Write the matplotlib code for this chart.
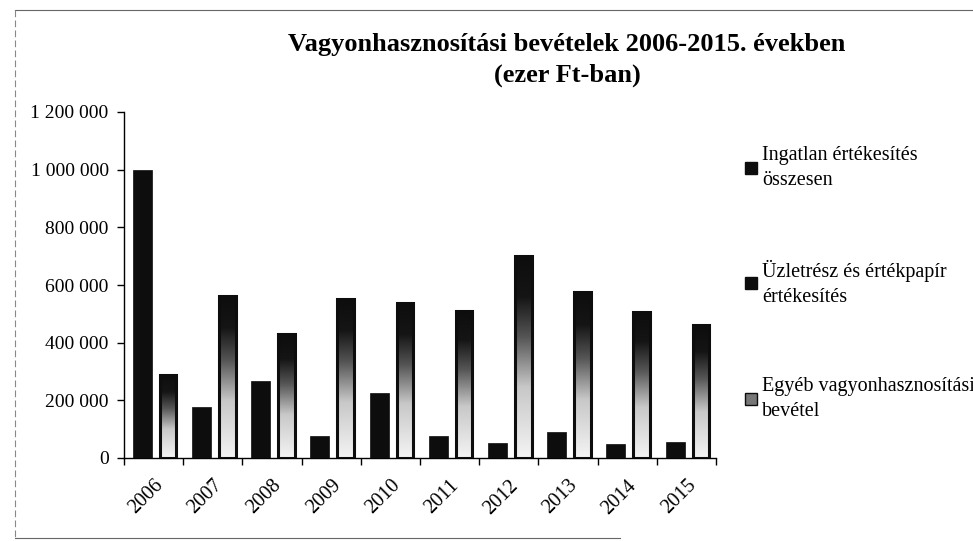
import numpy as np
import matplotlib
matplotlib.use("Agg")
import matplotlib.pyplot as plt
from matplotlib.lines import Line2D
from matplotlib.ticker import FuncFormatter, MultipleLocator

years = ["2006", "2007", "2008", "2009", "2010", "2011", "2012", "2013", "2014", "2015"]
ingatlan = [1000000, 178000, 268000, 76000, 226000, 76000, 52000, 90000, 48000, 57000]
uzletresz = [0, 0, 0, 0, 0, 0, 0, 0, 0, 0]
egyeb = [287000, 563000, 430000, 552000, 537000, 510000, 700000, 577000, 505000, 460000]
series_names = ["Ingatlan értékesítés\nösszesen",
                "Üzletrész és értékpapír\nértékesítés",
                "Egyéb vagyonhasznosítási\nbevétel"]
title = "Vagyonhasznosítási bevételek 2006-2015. években\n(ezer Ft-ban)"

plt.rcParams['font.family'] = ['Liberation Serif', 'DejaVu Serif']

fig = plt.figure(figsize=(9.73, 5.41), dpi=100)
ax = fig.add_axes([124/973, 1-458/541, (716-124)/973, (458-112)/541])

x = np.arange(len(years))
ax.bar(x - 0.19, ingatlan, width=0.32, color='#0d0d0d', edgecolor='#0d0d0d', linewidth=0.5, zorder=3)
ax.bar(x + 0.03, uzletresz, width=0.1, color='#0d0d0d', zorder=3)
bars_e = ax.bar(x + 0.245, egyeb, width=0.28, facecolor='none', edgecolor='#0d0d0d', linewidth=2.2, zorder=4)

# gradient fill: dark at top, light at bottom
grad = np.linspace(0, 1, 256).reshape(-1, 1)
cmap = matplotlib.colors.LinearSegmentedColormap.from_list(
    'g', [(0, '#f4f4f4'), (0.35, '#c8c8c8'), (0.6, '#555555'), (0.8, '#151515'), (1, '#0d0d0d')])
for b in bars_e:
    x0, y0 = b.get_x(), b.get_y()
    w, h = b.get_width(), b.get_height()
    im = ax.imshow(grad, extent=[x0, x0 + w, y0, y0 + h], origin='lower',
                   aspect='auto', cmap=cmap, zorder=3)
    im.set_clip_path(b)

ax.set_xlim(-0.5, len(years) - 0.5)
ax.set_ylim(0, 1200000)
ax.yaxis.set_major_locator(MultipleLocator(200000))
ax.yaxis.set_major_formatter(FuncFormatter(lambda v, p: f"{int(v):,}".replace(",", " ")))

ax.set_xticks(x)
ax.set_xticklabels(years, rotation=45, ha='right', rotation_mode='anchor', fontsize=14.5)
ax.set_xticks(np.arange(len(years) + 1) - 0.5, minor=True)
ax.tick_params(axis='x', which='major', length=0, pad=13)
ax.tick_params(axis='x', which='minor', length=5, direction='out', width=1)
ax.tick_params(axis='y', labelsize=14, length=5, direction='out', width=1, pad=6)

for s in ['top', 'right']:
    ax.spines[s].set_visible(False)
ax.spines['left'].set_linewidth(1)
ax.spines['bottom'].set_linewidth(1)
ax.set_facecolor('none')

fig.text(567/973, 1 - 60/541, title, ha='center', va='center', fontsize=19,
         fontweight='bold', linespacing=1.4)

# legend
handles = [Line2D([], [], marker='s', linestyle='none', markersize=9, color='#0d0d0d'),
           Line2D([], [], marker='s', linestyle='none', markersize=9, color='#0d0d0d'),
           Line2D([], [], marker='s', linestyle='none', markersize=9, markerfacecolor='#777777',
                  markeredgecolor='#0d0d0d')]
leg = fig.legend(handles, series_names, loc='upper left', bbox_to_anchor=(745/973, 1 - 146/541),
                 frameon=False, fontsize=14.5, handlelength=0.6, handletextpad=0.25,
                 labelspacing=3.5, borderaxespad=0, borderpad=0)
for t in leg.get_texts():
    t.set_linespacing(1.4)

# page frame
fig.add_artist(Line2D([15/973, 1], [1 - 10/541, 1 - 10/541], transform=fig.transFigure,
                      color='#666666', lw=0.8))
fig.add_artist(Line2D([15/973, 15/973], [1 - 10/541, 1 - 538/541], transform=fig.transFigure,
                      color='#888888', lw=0.8, linestyle=(0, (6, 3))))
fig.add_artist(Line2D([15/973, 620/973], [1 - 538/541, 1 - 538/541], transform=fig.transFigure,
                      color='#666666', lw=0.8))

fig.savefig('out.png', dpi=100)
